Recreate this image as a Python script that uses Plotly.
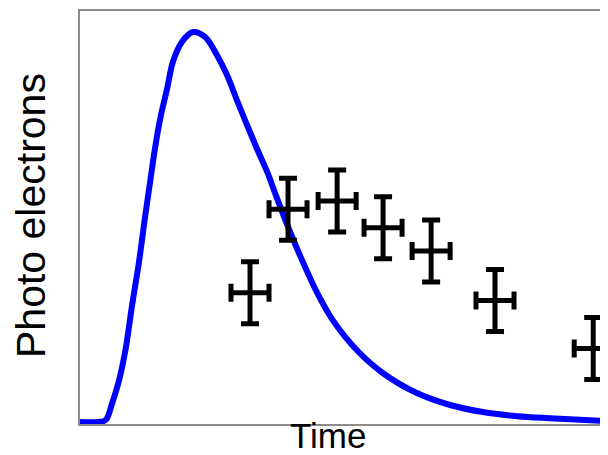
import plotly.graph_objects as go

# Model curve (arbitrary units)
curve_t = [0.0, 0.36, 0.49, 0.61, 0.74, 0.87, 0.98, 1.12, 1.23, 1.33, 1.42, 1.52, 1.65, 1.76,
           1.93, 2.14, 2.37, 2.59, 2.78, 2.97, 3.16, 3.35, 3.54, 3.73, 3.92, 4.17, 4.49,
           4.79, 5.25, 5.74, 6.38, 7.01, 7.63, 8.28, 8.90, 10.0]
curve_v = [0.005, 0.005, 0.010, 0.051, 0.106, 0.186, 0.282, 0.395, 0.499, 0.588, 0.667, 0.740, 0.812, 0.877,
           0.925, 0.949, 0.937, 0.894, 0.846, 0.785, 0.725, 0.667, 0.612, 0.547, 0.484, 0.407, 0.318,
           0.251, 0.178, 0.123, 0.075, 0.046, 0.029, 0.019, 0.014, 0.007]

# Measured points with errors
meas_t = [3.22, 3.94, 4.87, 5.74, 6.65, 7.86, 9.72]
meas_v = [0.318, 0.520, 0.540, 0.475, 0.419, 0.299, 0.183]
meas_t_err = [0.36, 0.36, 0.36, 0.36, 0.36, 0.36, 0.36]
meas_v_err = [0.075, 0.075, 0.075, 0.075, 0.075, 0.075, 0.075]

x_label = "Time"
y_label = "Photo electrons"

fig = go.Figure()
fig.add_trace(go.Scatter(
    x=curve_t, y=curve_v, mode="lines",
    line=dict(color="#0000ff", width=6, shape="spline", smoothing=0.9),
    showlegend=False, hoverinfo="skip"))
fig.add_trace(go.Scatter(
    x=meas_t, y=meas_v, mode="markers",
    marker=dict(size=1, color="black"),
    error_x=dict(type="data", array=meas_t_err, color="black", thickness=5, width=9),
    error_y=dict(type="data", array=meas_v_err, color="black", thickness=5, width=9),
    showlegend=False))

axis_common = dict(showgrid=False, zeroline=False, showticklabels=False, ticks="",
                   showline=True, linecolor="#8c8c8c", linewidth=2)
fig.update_xaxes(range=[0, 10], mirror=True, **axis_common)
fig.update_yaxes(range=[0, 1], mirror=False, **axis_common)

font_family = "Liberation Sans, Arial, sans-serif"
fig.update_layout(
    width=608, height=455,
    margin=dict(l=72, r=8, t=1, b=39),
    paper_bgcolor="white", plot_bgcolor="white",
    annotations=[
        dict(text=x_label, xref="paper", yref="paper", x=0.4697, y=-0.029,
             xanchor="center", yanchor="middle", showarrow=False,
             font=dict(family=font_family, size=35, color="black")),
        dict(text=y_label, xref="paper", yref="paper", x=-0.0928, y=0.5036,
             xanchor="center", yanchor="middle", textangle=-90, showarrow=False,
             font=dict(family=font_family, size=41, color="black")),
    ],
)

fig.write_html("out.html")
